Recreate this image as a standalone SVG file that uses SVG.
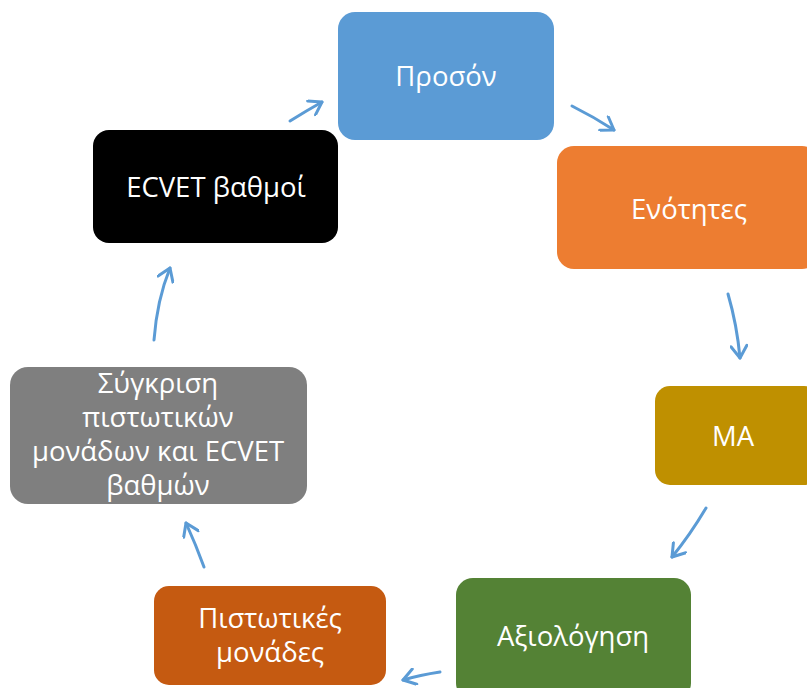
<svg xmlns="http://www.w3.org/2000/svg" width="807" height="688" viewBox="0 0 807 688">
<style>
.t{font-family:"Open Sans","Noto Sans","DejaVu Sans",sans-serif;font-size:27.5px;fill:#fff;text-anchor:middle;dominant-baseline:central}
.c{fill:none;stroke:#5B9BD5;stroke-width:3;stroke-linecap:round}
</style>
<defs>
<marker id="ah" viewBox="-14 -9 16 18" markerWidth="16" markerHeight="18" refX="0" refY="0" orient="auto" markerUnits="userSpaceOnUse">
<path d="M-12,-8 L0,0 L-12,8" fill="none" stroke="#5B9BD5" stroke-width="3" stroke-linecap="round" stroke-linejoin="round"/>
</marker>
</defs>
<rect width="807" height="688" fill="#fff"/>
<g id="n1"><rect x="338" y="12" width="216" height="128" rx="17" fill="#5B9BD5"/><text class="t" x="446" y="75">Προσόν</text></g>
<g id="n2"><rect x="557" y="146" width="262" height="123" rx="17" fill="#ED7D31"/><text class="t" x="689" y="208">Ενότητες</text></g>
<g id="n3"><rect x="655" y="386" width="164" height="99" rx="15" fill="#BF9000"/><text class="t" x="733" y="435">MA</text></g>
<g id="n4"><rect x="456" y="578" width="235" height="122" rx="17" fill="#548235"/><text class="t" x="573" y="635">Αξιολόγηση</text></g>
<g id="n5"><rect x="154" y="586" width="232" height="99" rx="15" fill="#C55A11"/><text class="t" x="270" y="617">Πιστωτικές</text><text class="t" x="270" y="651">μονάδες</text></g>
<g id="n6"><rect x="10" y="367" width="297" height="137" rx="18" fill="#7F7F7F"/><text class="t" x="158" y="382">Σύγκριση</text><text class="t" x="158" y="416">πιστωτικών</text><text class="t" x="158" y="450">μονάδων και ECVET</text><text class="t" x="158" y="484">βαθμών</text></g>
<g id="n7"><rect x="93" y="130" width="245" height="113" rx="16" fill="#000"/><text class="t" x="216" y="186">ECVET βαθμοί</text></g>
<g id="connectors">
<path class="c" d="M290,121 Q306,111 322,102" marker-end="url(#ah)"/>
<path class="c" d="M572,106 Q594,117 614,130" marker-end="url(#ah)"/>
<path class="c" d="M728,294 Q737,325 740,358" marker-end="url(#ah)"/>
<path class="c" d="M706,508 Q690,535 672,557" marker-end="url(#ah)"/>
<path class="c" d="M440,672 Q420,675 403,680" marker-end="url(#ah)"/>
<path class="c" d="M204,567 Q196,545 186,523" marker-end="url(#ah)"/>
<path class="c" d="M154,340 Q157,300 170,268" marker-end="url(#ah)"/>
</g>
</svg>
